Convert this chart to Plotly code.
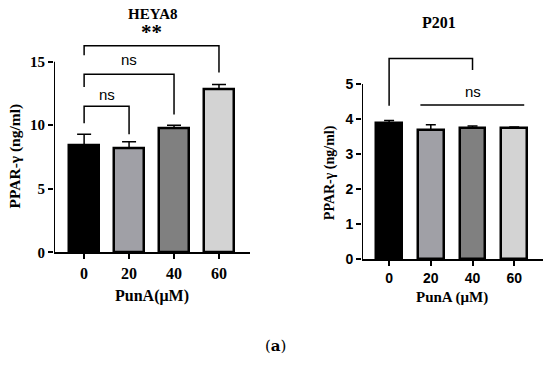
import plotly.graph_objects as go

categories = ["0", "20", "40", "60"]
heya8_values = [8.4, 8.2, 9.8, 12.85]
heya8_errors = [0.9, 0.5, 0.2, 0.35]
p201_values = [3.88, 3.69, 3.75, 3.75]
p201_errors = [0.08, 0.15, 0.05, 0.02]
bar_colors = ["#000000", "#a0a0a6", "#808080", "#d3d3d3"]
heya8_ticks = [0, 5, 10, 15]
p201_ticks = [0, 1, 2, 3, 4, 5]

# brackets: (x_left, x_right, y_top, y_left_end, y_right_end, label, label_y)
heya8_brackets = [
    (0, 1, 11.5, 10.15, 9.3, "ns", 12.4),
    (0, 2, 14.0, 13.0, 10.85, "ns", 15.2),
    (0, 3, 16.25, 15.5, 14.15, "**", 17.35),
]
p201_bracket = (0, 2, 5.73, 4.38, 5.4)
p201_line = (0.75, 3.24, 4.40, "ns", 4.78)

serif = "Times New Roman, Liberation Serif, serif"
sans = "Arial, Liberation Sans, sans-serif"

Y1_DOMAIN = [1 - 258 / 369, 1 - 37 / 369]
Y1_RANGE = [0, 17]
Y2_DOMAIN = [1 - 265 / 369, 1 - 50 / 369]
Y2_RANGE = [0, 6]


def to_paper(v, dom, rng):
    return dom[0] + (v - rng[0]) / (rng[1] - rng[0]) * (dom[1] - dom[0])


fig = go.Figure()
fig.add_trace(go.Bar(
    x=[0, 1, 2, 3], y=heya8_values, width=0.66,
    marker=dict(color=bar_colors, line=dict(color="black", width=2.5)),
    error_y=dict(type="data", symmetric=False, array=heya8_errors,
                 arrayminus=[0] * 4, color="black", thickness=1.5, width=7),
    xaxis="x", yaxis="y", showlegend=False, hoverinfo="skip"))
fig.add_trace(go.Bar(
    x=[0, 1, 2, 3], y=p201_values, width=0.62,
    marker=dict(color=bar_colors, line=dict(color="black", width=2.5)),
    error_y=dict(type="data", symmetric=False, array=p201_errors,
                 arrayminus=[0] * 4, color="black", thickness=1.5, width=5),
    xaxis="x2", yaxis="y2", showlegend=False, hoverinfo="skip"))

shapes = []
line_style = dict(color="black", width=1.5)
shapes.append(dict(type="line", xref="x", yref="y", x0=-0.67, x1=-0.67,
                   y0=0, y1=heya8_ticks[-1], line=dict(color="black", width=2)))
shapes.append(dict(type="line", xref="x2", yref="y2", x0=-0.65, x1=-0.65,
                   y0=0, y1=p201_ticks[-1], line=dict(color="black", width=2)))
annotations = []
for xl, xr, yt, yle, yre, lab, ly in heya8_brackets:
    shapes.append(dict(type="path", xref="x", yref="y",
                       path=f"M {xl} {yle} L {xl} {yt} L {xr} {yt} L {xr} {yre}",
                       line=line_style))
    is_star = lab == "**"
    annotations.append(dict(x=(xl + xr) / 2, y=to_paper(ly, Y1_DOMAIN, Y1_RANGE),
                            xref="x", yref="paper",
                            text=f"<b>{lab}</b>" if is_star else lab,
                            showarrow=False, xanchor="center", yanchor="middle",
                            font=dict(family=serif if is_star else sans,
                                      size=21 if is_star else 15, color="black")))
xl, xr, yt, yle, yre = p201_bracket
shapes.append(dict(type="path", xref="x2", yref="y2",
                   path=f"M {xl} {yle} L {xl} {yt} L {xr} {yt} L {xr} {yre}",
                   line=line_style))
lx0, lx1, ly, lab, laby = p201_line
shapes.append(dict(type="line", xref="x2", yref="y2", x0=lx0, x1=lx1, y0=ly, y1=ly,
                   line=line_style))
annotations.append(dict(x=2, y=to_paper(laby, Y2_DOMAIN, Y2_RANGE), xref="x2",
                        yref="paper", text=lab, showarrow=False,
                        xanchor="center", yanchor="middle",
                        font=dict(family=sans, size=15, color="black")))


def txt(x, y, text, size, family=serif, angle=0):
    return dict(x=x / 550, y=1 - y / 369, xref="paper", yref="paper", text=text,
                textangle=angle, showarrow=False, xanchor="center", yanchor="middle",
                font=dict(family=family, size=size, color="black"))


annotations += [
    txt(152, 14, "<b>HEYA8</b>", 15),
    txt(439, 23, "<b>P201</b>", 16),
    txt(152, 303, "<b>PunA(μM)</b>", 16),
    txt(452, 304, "<b>PunA (μM)</b>", 15),
    txt(15, 160, "<b>PPAR-γ (ng/ml)</b>", 15.5, angle=-90),
    txt(330, 177, "<b>PPAR-γ (ng/ml)</b>", 14, angle=-90),
    txt(275, 354, "(<b>a</b>)", 15, family="DejaVu Serif, serif"),
]

fig.update_layout(
    width=550, height=369, margin=dict(l=0, r=0, t=0, b=0),
    paper_bgcolor="white", plot_bgcolor="white",
    shapes=shapes, annotations=annotations, bargap=0,
    xaxis=dict(domain=[54 / 550, 250 / 550], range=[-0.67, 3.69],
               tickvals=[0, 1, 2, 3], ticktext=[f"<b>{c}</b>" for c in categories],
               showline=True, linecolor="black", linewidth=2, ticks="outside",
               ticklen=5, tickwidth=2, tickcolor="black", showgrid=False, zeroline=False,
               tickfont=dict(family=serif, size=16, color="black")),
    yaxis=dict(domain=Y1_DOMAIN, range=Y1_RANGE,
               tickvals=heya8_ticks, ticktext=[f"<b>{v}</b>" for v in heya8_ticks],
               showline=False, ticks="outside", ticklen=5, tickwidth=2,
               tickcolor="black", showgrid=False, zeroline=False,
               tickfont=dict(family=serif, size=15, color="black")),
    xaxis2=dict(domain=[362 / 550, 543 / 550], range=[-0.65, 3.69],
                tickvals=[0, 1, 2, 3], ticktext=[f"<b>{c}</b>" for c in categories],
                showline=True, linecolor="black", linewidth=2, ticks="outside",
                ticklen=5, tickwidth=2, tickcolor="black", showgrid=False, zeroline=False,
                tickfont=dict(family=sans, size=14, color="black"), anchor="y2"),
    yaxis2=dict(domain=Y2_DOMAIN, range=Y2_RANGE,
                tickvals=p201_ticks, ticktext=[f"<b>{v}</b>" for v in p201_ticks],
                showline=False, ticks="outside", ticklen=5, tickwidth=2,
                tickcolor="black", showgrid=False, zeroline=False, anchor="x2",
                tickfont=dict(family=sans, size=14, color="black")),
)
fig.write_html(
    "out.html", config={"displayModeBar": False},
    post_script="document.documentElement.style.margin='0';document.body.style.margin='0';document.body.style.overflow='hidden';",
)
